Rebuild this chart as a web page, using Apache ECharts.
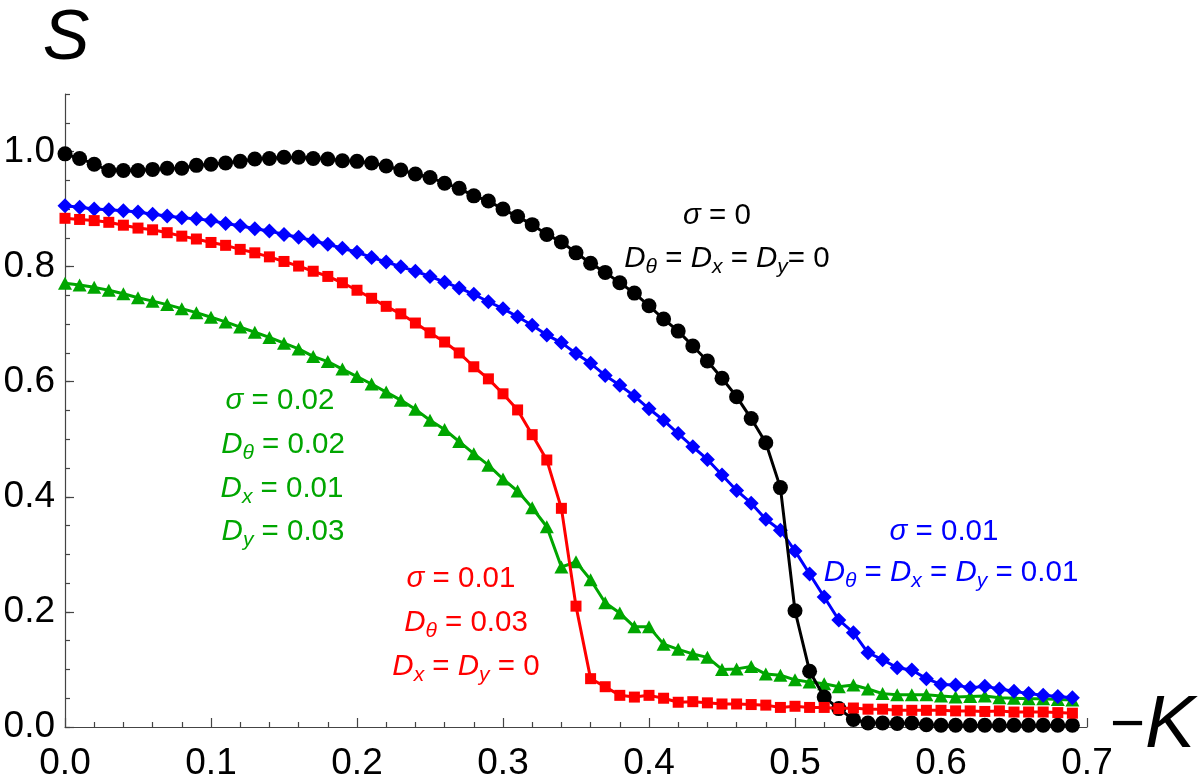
<!DOCTYPE html>
<html>
<head>
<meta charset="utf-8">
<script src="https://cdn.jsdelivr.net/npm/echarts@6/dist/echarts.min.js"></script>
<style>
  html, body {margin: 0; padding: 0; background: #fff;}
  #chart {width: 1200px; height: 782px;}
</style>
</head>
<body>
<div id="chart"></div>
<script>
// -K values (one point every 0.01)
const kValues = [
  0.00, 0.01, 0.02, 0.03, 0.04, 0.05, 0.06, 0.07, 0.08, 0.09,
  0.10, 0.11, 0.12, 0.13, 0.14, 0.15, 0.16, 0.17, 0.18, 0.19,
  0.20, 0.21, 0.22, 0.23, 0.24, 0.25, 0.26, 0.27, 0.28, 0.29,
  0.30, 0.31, 0.32, 0.33, 0.34, 0.35, 0.36, 0.37, 0.38, 0.39,
  0.40, 0.41, 0.42, 0.43, 0.44, 0.45, 0.46, 0.47, 0.48, 0.49,
  0.50, 0.51, 0.52, 0.53, 0.54, 0.55, 0.56, 0.57, 0.58, 0.59,
  0.60, 0.61, 0.62, 0.63, 0.64, 0.65, 0.66, 0.67, 0.68, 0.69
]

// sigma = 0, D = 0
const sBlack = [
  0.996, 0.988, 0.978, 0.967, 0.967, 0.967, 0.969, 0.971, 0.971, 0.976,
  0.978, 0.980, 0.983, 0.987, 0.988, 0.990, 0.990, 0.988, 0.987, 0.984,
  0.983, 0.980, 0.975, 0.968, 0.961, 0.955, 0.945, 0.936, 0.923, 0.914,
  0.900, 0.887, 0.873, 0.856, 0.843, 0.824, 0.806, 0.790, 0.772, 0.754,
  0.732, 0.709, 0.688, 0.662, 0.636, 0.606, 0.574, 0.536, 0.494, 0.416,
  0.202, 0.097, 0.052, 0.032, 0.013, 0.007, 0.007, 0.006, 0.007, 0.004,
  0.003, 0.003, 0.003, 0.003, 0.003, 0.003, 0.003, 0.003, 0.003, 0.003
]

// sigma = 0.01, D = 0.01
const sBlue = [
  0.906, 0.903, 0.900, 0.899, 0.897, 0.895, 0.891, 0.888, 0.885, 0.883,
  0.880, 0.875, 0.871, 0.866, 0.862, 0.856, 0.851, 0.845, 0.839, 0.832,
  0.825, 0.816, 0.808, 0.800, 0.792, 0.783, 0.773, 0.763, 0.752, 0.739,
  0.727, 0.713, 0.698, 0.681, 0.668, 0.649, 0.632, 0.611, 0.594, 0.575,
  0.553, 0.533, 0.510, 0.487, 0.465, 0.438, 0.411, 0.389, 0.361, 0.342,
  0.306, 0.266, 0.226, 0.186, 0.164, 0.129, 0.117, 0.103, 0.099, 0.084,
  0.074, 0.073, 0.068, 0.071, 0.066, 0.062, 0.058, 0.055, 0.053, 0.051
]

// sigma = 0.01, Dtheta = 0.03, Dx = Dy = 0
const sRed = [
  0.884, 0.882, 0.880, 0.877, 0.872, 0.867, 0.864, 0.859, 0.853, 0.848,
  0.842, 0.837, 0.830, 0.824, 0.817, 0.809, 0.801, 0.792, 0.783, 0.772,
  0.759, 0.745, 0.731, 0.718, 0.702, 0.685, 0.669, 0.650, 0.626, 0.605,
  0.579, 0.551, 0.508, 0.464, 0.380, 0.210, 0.084, 0.070, 0.055, 0.052,
  0.055, 0.050, 0.043, 0.044, 0.042, 0.040, 0.040, 0.039, 0.038, 0.034,
  0.036, 0.034, 0.034, 0.032, 0.033, 0.031, 0.031, 0.029, 0.029, 0.029,
  0.029, 0.028, 0.028, 0.027, 0.028, 0.026, 0.026, 0.026, 0.025, 0.024
]

// sigma = 0.02, Dtheta = 0.02, Dx = 0.01, Dy = 0.03
const sGreen = [
  0.771, 0.768, 0.764, 0.759, 0.753, 0.746, 0.740, 0.734, 0.727, 0.720,
  0.712, 0.704, 0.695, 0.686, 0.677, 0.667, 0.657, 0.644, 0.635, 0.622,
  0.609, 0.596, 0.582, 0.568, 0.552, 0.533, 0.517, 0.496, 0.475, 0.455,
  0.431, 0.410, 0.381, 0.348, 0.278, 0.287, 0.256, 0.216, 0.198, 0.174,
  0.174, 0.144, 0.135, 0.127, 0.121, 0.100, 0.101, 0.105, 0.092, 0.090,
  0.082, 0.078, 0.075, 0.070, 0.073, 0.066, 0.058, 0.056, 0.056, 0.056,
  0.054, 0.052, 0.053, 0.054, 0.051, 0.050, 0.049, 0.049, 0.048, 0.047
]

const yMajorTicks = [0, 0.2, 0.4, 0.6, 0.8, 1.0]

const FONT = '"Liberation Sans", Arial, sans-serif'
const AXIS_COLOR = '#444'
const GREEN = '#00a600'

const pairs = ys => kValues.map((k, i) => [k, ys[i]])

// rich styles for the parameter labels, one set per colour
const richFor = color => ({
  n: {fontSize: 29.5, fontFamily: FONT, fill: color},
  i: {fontSize: 29.5, fontFamily: FONT, fontStyle: 'italic', fill: color},
  s: {fontSize: 21, fontFamily: FONT, fontStyle: 'italic', fill: color, padding: [17, 0, 0, 0]},
})

const note = (x, y, text, color) => ({
  type: 'text',
  x, y,
  z: 100,
  style: {
    text,
    rich: richFor(color),
    align: 'center',
    verticalAlign: 'middle',
    fill: color,
    font: '29.5px ' + FONT,
  },
})

const lineSeries = (name, ys, color, symbol, size, z) => ({
  name,
  type: 'line',
  data: pairs(ys),
  z,
  symbol,
  symbolSize: size,
  showSymbol: true,
  lineStyle: {color, width: 3},
  itemStyle: {color, borderWidth: 0},
  emphasis: {disabled: true},
})

const chart = echarts.init(document.getElementById('chart'), null, {renderer: 'canvas'})

chart.setOption({
  animation: false,
  backgroundColor: '#fff',
  grid: {left: 65, right: 113, top: 94, bottom: 55, containLabel: false, outerBoundsMode: 'none'},
  xAxis: {
    type: 'value',
    min: 0,
    max: 0.7,
    interval: 0.1,
    axisLine: {lineStyle: {color: AXIS_COLOR, width: 1.2}},
    axisTick: {inside: true, length: 9, lineStyle: {color: AXIS_COLOR, width: 1.2}},
    minorTick: {show: true, splitNumber: 5, length: 5, lineStyle: {color: AXIS_COLOR, width: 1.2}},
    axisLabel: {
      color: '#000', fontSize: 37, fontFamily: FONT, margin: 18,
      formatter: v => v.toFixed(1),
    },
    splitLine: {show: false},
  },
  yAxis: [{
    type: 'value',
    min: 0,
    max: 1.1,
    interval: 0.05,
    offset: 0,
    axisLine: {show: true, lineStyle: {color: AXIS_COLOR, width: 1.2}},
    axisTick: {inside: true, length: 5, lineStyle: {color: AXIS_COLOR, width: 1.2}},
    axisLabel: {show: false},
    splitLine: {show: false},
  }, {
    type: 'value',
    min: 0,
    max: 1.1,
    position: 'left',
    offset: 0,
    axisLine: {show: false},
    axisTick: {show: true, inside: true, length: 9, customValues: yMajorTicks,
      lineStyle: {color: AXIS_COLOR, width: 1.2}},
    axisLabel: {
      show: true, customValues: yMajorTicks,
      color: '#000', fontSize: 37, fontFamily: FONT, margin: 10,
      formatter: v => v.toFixed(1),
    },
    splitLine: {show: false},
  }],
  series: [
    lineSeries('green', sGreen, GREEN, 'triangle', [14, 13], 2),
    lineSeries('blue', sBlue, '#0000ff', 'diamond', [15, 15], 3),
    lineSeries('black', sBlack, '#000', 'circle', 15, 4),
    lineSeries('red', sRed, '#ff0000', 'rect', 11, 5),
  ],
  graphic: [
    {
      type: 'text', x: 66, y: 40, z: 100,
      style: {text: 'S', font: 'italic 70px ' + FONT, fill: '#000',
        align: 'center', verticalAlign: 'middle'},
    },
    {
      type: 'text', x: 1110, y: 726, z: 100,
      style: {
        text: '{m|−}{k|K}',
        align: 'left', verticalAlign: 'middle', fill: '#000',
        rich: {
          m: {fontSize: 60, fontFamily: FONT, fill: '#000'},
          k: {fontSize: 75, fontFamily: FONT, fontStyle: 'italic', fill: '#000'},
        },
      },
    },
    // sigma = 0
    note(717, 216, '{i|σ}{n| = 0}', '#000'),
    note(727, 259, '{i|D}{s|θ}{n| = }{i|D}{s|x}{n| = }{i|D}{s|y}{n|= 0}', '#000'),
    // sigma = 0.01, D = 0.01
    note(944, 532, '{i|σ}{n| = 0.01}', '#0000ff'),
    note(951, 573, '{i|D}{s|θ}{n| = }{i|D}{s|x}{n| = }{i|D}{s|y}{n| = 0.01}', '#0000ff'),
    // sigma = 0.02
    note(280, 401, '{i|σ}{n| = 0.02}', GREEN),
    note(283, 445, '{i|D}{s|θ}{n| = 0.02}', GREEN),
    note(282, 489, '{i|D}{s|x}{n| = 0.01}', GREEN),
    note(283, 532, '{i|D}{s|y}{n| = 0.03}', GREEN),
    // sigma = 0.01, Dtheta = 0.03
    note(461, 579, '{i|σ}{n| = 0.01}', '#ff0000'),
    note(466, 623, '{i|D}{s|θ}{n| = 0.03}', '#ff0000'),
    note(466, 667, '{i|D}{s|x}{n| = }{i|D}{s|y}{n| = 0}', '#ff0000'),
  ],
})
</script>
</body>
</html>
